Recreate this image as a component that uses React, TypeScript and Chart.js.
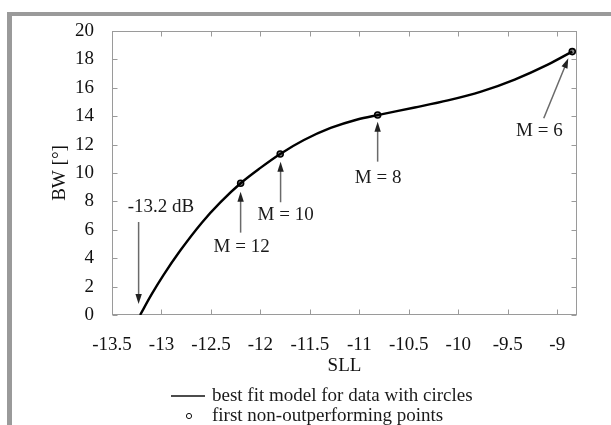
import React, { useEffect, useRef } from 'react';
import { Chart, registerables } from 'chart.js';

Chart.register(...registerables);

// ---- data ----
const fitSll = [-13.216, -13.1, -12.98, -12.81, -12.59, -12.405, -12.2, -12.0, -11.8, -11.56, -11.29, -11.02, -10.815, -10.44, -10.105, -9.77, -9.43, -9.09, -8.848];
const fitBw = [0, 1.45, 2.81, 4.54, 6.52, 7.93, 9.28, 10.36, 11.34, 12.32, 13.17, 13.77, 14.08, 14.61, 15.11, 15.73, 16.58, 17.65, 18.55];

const pointSll = [-12.2, -11.8, -10.815, -8.848];
const pointBw = [9.28, 11.34, 14.08, 18.55];

const xTickValues = [-13.5, -13, -12.5, -12, -11.5, -11, -10.5, -10, -9.5, -9];
const yTickValues = [0, 2, 4, 6, 8, 10, 12, 14, 16, 18, 20];

const annTexts = ['-13.2 dB', 'M = 12', 'M = 10', 'M = 8', 'M = 6'];
const annTextX = [-13.005, -12.19, -11.745, -10.81, -9.18];
const annTextY = [7.63, 4.81, 7.04, 9.63, 12.98];
const arrowFromX = [-13.231, -12.2, -11.796, -10.815, -9.136];
const arrowFromY = [6.55, 5.8, 7.94, 10.8, 13.85];
const arrowToX = [-13.231, -12.2, -11.796, -10.815, -8.888];
const arrowToY = [0.77, 8.68, 10.8, 13.61, 18.08];

const legendLabels = ['best fit model for data with circles', 'first non-outperforming points'];

const FONT = '"Liberation Serif", "Times New Roman", serif';
const FONT_SIZE = 19;

const drawArrow = (ctx: CanvasRenderingContext2D, x1: number, y1: number, x2: number, y2: number) => {
  const dx = x2 - x1;
  const dy = y2 - y1;
  const len = Math.sqrt(dx * dx + dy * dy);
  const ux = dx / len;
  const uy = dy / len;
  const headLen = 10;
  const headHalf = 3.2;
  const bx = x2 - ux * headLen;
  const by = y2 - uy * headLen;
  ctx.strokeStyle = '#6a6a6a';
  ctx.lineWidth = 1.5;
  ctx.beginPath();
  ctx.moveTo(x1, y1);
  ctx.lineTo(bx + ux * 2, by + uy * 2);
  ctx.stroke();
  ctx.fillStyle = '#222';
  ctx.beginPath();
  ctx.moveTo(x2, y2);
  ctx.lineTo(bx - uy * headHalf, by + ux * headHalf);
  ctx.lineTo(bx + uy * headHalf, by - ux * headHalf);
  ctx.closePath();
  ctx.fill();
};

const boxPlugin = {
  id: 'boxTicks',
  beforeDatasetsDraw(chart: any) {
    const { ctx, chartArea: a, scales } = chart;
    const xs = scales.x;
    const ys = scales.y;
    ctx.save();
    ctx.strokeStyle = '#9a9a9a';
    ctx.lineWidth = 1;
    const L = Math.round(a.left) + 0.5;
    const R = Math.round(a.right) - 0.5;
    const T = Math.round(a.top) + 0.5;
    const B = Math.round(a.bottom) - 0.5;
    ctx.strokeRect(L, T, R - L, B - T);
    const tl = 5;
    ctx.beginPath();
    xTickValues.forEach((v) => {
      const px = Math.round(xs.getPixelForValue(v)) + 0.5;
      ctx.moveTo(px, B);
      ctx.lineTo(px, B - tl);
      ctx.moveTo(px, T);
      ctx.lineTo(px, T + tl);
    });
    yTickValues.forEach((v) => {
      const py = Math.round(ys.getPixelForValue(v)) + 0.5;
      ctx.moveTo(L, py);
      ctx.lineTo(L + tl, py);
      ctx.moveTo(R, py);
      ctx.lineTo(R - tl, py);
    });
    ctx.stroke();
    ctx.restore();
  },
  afterDatasetsDraw(chart: any) {
    const { ctx, scales } = chart;
    const xs = scales.x;
    const ys = scales.y;
    ctx.save();
    for (let i = 0; i < annTexts.length; i++) {
      drawArrow(
        ctx,
        xs.getPixelForValue(arrowFromX[i]),
        ys.getPixelForValue(arrowFromY[i]),
        xs.getPixelForValue(arrowToX[i]),
        ys.getPixelForValue(arrowToY[i])
      );
    }
    ctx.fillStyle = '#1a1a1a';
    ctx.font = `${FONT_SIZE}px ${FONT}`;
    ctx.textAlign = 'center';
    ctx.textBaseline = 'middle';
    for (let i = 0; i < annTexts.length; i++) {
      ctx.fillText(annTexts[i], xs.getPixelForValue(annTextX[i]), ys.getPixelForValue(annTextY[i]));
    }
    ctx.restore();
  },
  afterDraw(chart: any) {
    const { ctx } = chart;
    ctx.save();
    ctx.font = `${FONT_SIZE}px ${FONT}`;
    ctx.fillStyle = '#1a1a1a';
    ctx.textAlign = 'left';
    ctx.textBaseline = 'middle';
    const y1 = 396;
    const y2 = 416;
    ctx.strokeStyle = '#111';
    ctx.lineWidth = 1.5;
    ctx.beginPath();
    ctx.moveTo(171, y1);
    ctx.lineTo(205, y1);
    ctx.stroke();
    ctx.fillText(legendLabels[0], 212, y1);
    ctx.lineWidth = 1;
    ctx.beginPath();
    ctx.arc(189, y2, 2.6, 0, Math.PI * 2);
    ctx.stroke();
    ctx.fillText(legendLabels[1], 212, y2);
    ctx.restore();
  },
};

export default function App() {
  const canvasRef = useRef<HTMLCanvasElement | null>(null);

  useEffect(() => {
    const canvas = canvasRef.current;
    if (!canvas) return;
    const fitData = fitSll.map((x, i) => ({ x, y: fitBw[i] }));
    const ptData = pointSll.map((x, i) => ({ x, y: pointBw[i] }));
    const chart = new Chart(canvas, {
      type: 'line',
      data: {
        datasets: [
          {
            label: legendLabels[0],
            data: fitData,
            borderColor: '#000',
            borderWidth: 2.4,
            pointRadius: 0,
            cubicInterpolationMode: 'monotone',
            fill: false,
          },
          {
            label: legendLabels[1],
            data: ptData,
            showLine: false,
            pointRadius: 3,
            pointBorderWidth: 1.6,
            pointBorderColor: '#000',
            pointBackgroundColor: '#888',
          },
        ],
      },
      plugins: [boxPlugin],
      options: {
        animation: false,
        responsive: false,
        devicePixelRatio: 1,
        layout: { padding: { left: 45, right: 34, top: 31, bottom: 44 } },
        plugins: {
          legend: { display: false },
          tooltip: { enabled: false },
          title: { display: false },
        },
        scales: {
          x: {
            type: 'linear',
            min: -13.5,
            max: -8.8,
            grid: { display: false },
            border: { display: false },
            afterBuildTicks: (scale: any) => {
              scale.ticks = xTickValues.map((v) => ({ value: v }));
            },
            afterFit: (scale: any) => {
              scale.height = 66;
            },
            ticks: {
              autoSkip: false,
              maxRotation: 0,
              padding: 11,
              color: '#111',
              font: { family: FONT, size: FONT_SIZE },
              callback: (v: any) => String(v),
            },
            title: {
              display: true,
              text: 'SLL',
              color: '#111',
              font: { family: FONT, size: FONT_SIZE },
            },
          },
          y: {
            type: 'linear',
            min: 0,
            max: 20,
            grid: { display: false },
            border: { display: false },
            afterBuildTicks: (scale: any) => {
              scale.ticks = yTickValues.map((v) => ({ value: v }));
            },
            afterFit: (scale: any) => {
              scale.width = 67;
            },
            ticks: {
              autoSkip: false,
              padding: 10,
              color: '#111',
              font: { family: FONT, size: FONT_SIZE },
              callback: (v: any) => String(v),
            },
            title: {
              display: true,
              text: 'BW [°]',
              color: '#111',
              font: { family: FONT, size: FONT_SIZE },
            },
          },
        },
      },
    } as any);
    return () => chart.destroy();
  }, []);

  return (
    <div style={{ position: 'fixed', left: 0, top: 0, width: 611, height: 425, background: '#fff', overflow: 'hidden' }}>
      <div
        style={{
          position: 'absolute',
          left: 7,
          top: 12,
          right: 0,
          bottom: 0,
          borderTop: '4px solid #9a9a9a',
          borderLeft: '5px solid #9a9a9a',
        }}
      />
      <canvas ref={canvasRef} width={611} height={425} style={{ position: 'absolute', left: 0, top: 0, width: 611, height: 425 }} />
    </div>
  );
}
